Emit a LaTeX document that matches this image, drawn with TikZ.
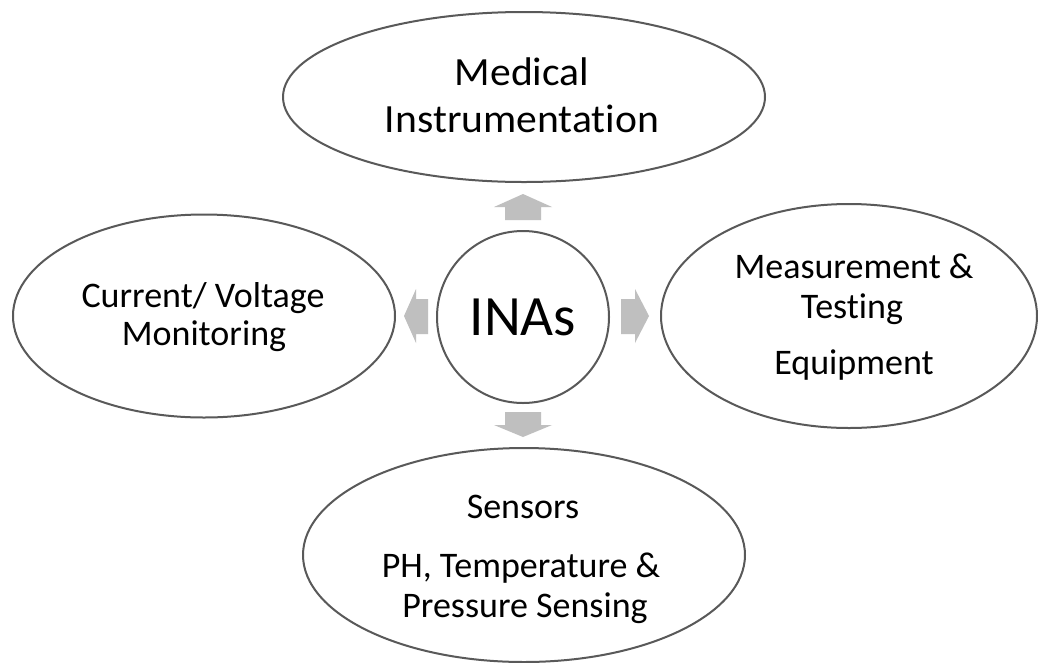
\documentclass[tikz,border=0pt]{standalone}
\usepackage{fontspec}
\setmainfont[Ligatures=NoCommon]{Carlito}
\newfontfamily\fA[Ligatures=NoCommon,FakeStretch=1.04]{Carlito}
\usetikzlibrary{shapes.geometric}
\definecolor{edgegrey}{HTML}{595959}
\definecolor{arrowgrey}{HTML}{BFBFBF}
\tikzset{
  bubble/.style={ellipse, draw=edgegrey, line width=2pt, fill=white, inner sep=0pt},
  hub/.style={circle, draw=edgegrey, line width=2pt, fill=white, inner sep=0pt, minimum size=172pt,
    font=\fontsize{57}{60}\selectfont},
  txt/.style={anchor=base, inner sep=0pt, font=\fontsize{36}{40}\selectfont},
  bigtxt/.style={anchor=base, inner sep=0pt, font=\fA\fontsize{40}{44}\selectfont},
  blockarrow/.style={fill=arrowgrey, draw=none}
}
\begin{document}
\begin{tikzpicture}[x=1pt,y=-1pt]
\useasboundingbox[fill=white] (0,0) rectangle (1038,662);
\node[hub] (c) at (523,317) {INAs};
\node[bubble, minimum width=482pt, minimum height=170pt] (top) at (524,97) {};
\node[bubble, minimum width=382pt, minimum height=203pt] (left) at (204,316) {};
\node[bubble, minimum width=376pt, minimum height=224pt] (right) at (849,316) {};
\node[bubble, minimum width=442pt, minimum height=214pt] (bottom) at (524,555) {};
% texts
\node[bigtxt] (top1) at (522,85) {Medical};
\node[bigtxt] (top2) at (522,132) {Instrumentation};
\node[txt] (left1) at (203,307) {Current/ Voltage};
\node[txt] (left2) at (204,345) {Monitoring};
\node[txt] (right1) at (854,278) {Measurement \&};
\node[txt] (right2) at (852,318) {Testing};
\node[txt] (right3) at (854,374) {Equipment};
\node[txt] (bot1) at (523,518) {Sensors};
\node[txt] (bot2) at (521,577) {PH, Temperature \&};
\node[txt] (bot3) at (525,617) {Pressure Sensing};
% block arrows from the hub toward each bubble
\fill[blockarrow] (523,194) -- (552,207) -- (541,207) -- (541,220) -- (505,220) -- (505,207) -- (494,207) -- cycle;
\fill[blockarrow] (523,437) -- (552,425) -- (541,425) -- (541,412) -- (505,412) -- (505,425) -- (494,425) -- cycle;
\fill[blockarrow] (404,316) -- (416,289) -- (416,299) -- (428,299) -- (428,334) -- (416,334) -- (416,343) -- cycle;
\fill[blockarrow] (649,316) -- (635,289) -- (635,299) -- (621,299) -- (621,334) -- (635,334) -- (635,343) -- cycle;
\end{tikzpicture}
\end{document}
